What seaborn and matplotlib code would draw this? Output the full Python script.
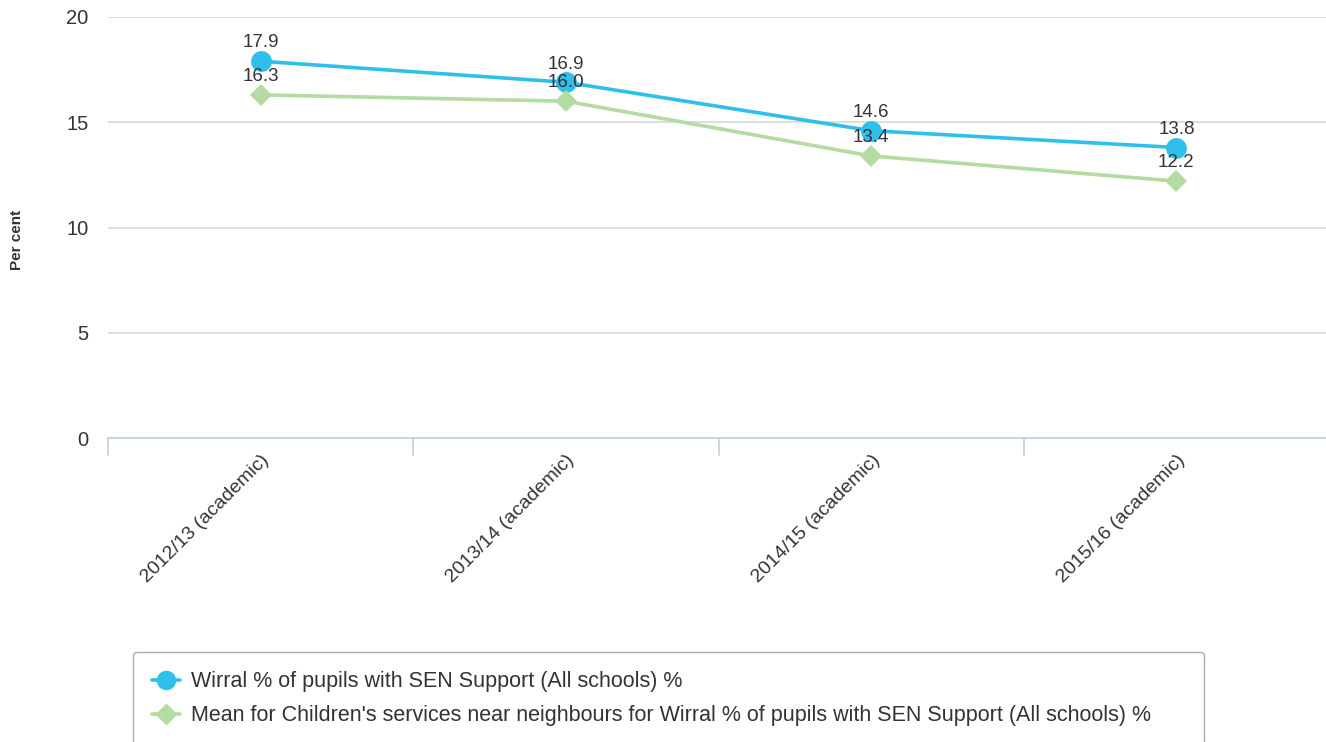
import numpy as np
import pandas as pd
import matplotlib
matplotlib.use("Agg")
import matplotlib.pyplot as plt
import seaborn as sns

# chart data
years = ["2012/13 (academic)", "2013/14 (academic)", "2014/15 (academic)", "2015/16 (academic)"]
wirral = [17.9, 16.9, 14.6, 13.8]
neighbours = [16.3, 16.0, 13.4, 12.2]
series_names = [
    "Wirral % of pupils with SEN Support (All schools) %",
    "Mean for Children's services near neighbours for Wirral % of pupils with SEN Support (All schools) %",
]
y_ticks = [0, 5, 10, 15, 20]

blue = "#2ec0ea"
green = "#b4dba0"

sns.set_theme(style="white")
plt.rcParams["font.family"] = ["Liberation Sans", "DejaVu Sans"]

df = pd.DataFrame({
    "pos": list(range(len(years))) * 2,
    "value": wirral + neighbours,
    "series": [series_names[0]] * len(years) + [series_names[1]] * len(years),
})

fig = plt.figure(figsize=(13.26, 7.42), dpi=100)
ax = fig.add_axes([108 / 1326, 1 - 438 / 742, (1326 - 108) / 1326, (438 - 17) / 742])

sns.lineplot(data=df, x="pos", y="value", hue="series", style="series",
             palette=[blue, green], markers=["o", "D"], dashes=False,
             markersize=14, linewidth=2.6, markeredgewidth=0, ax=ax, legend=False)
# diamond a bit smaller than circle
for line, ms in zip(ax.lines, [15, 11]):
    line.set_markersize(ms)

for vals in (wirral, neighbours):
    for i, v in enumerate(vals):
        ax.annotate(f"{v:.1f}", (i, v), xytext=(0, 7), textcoords="offset points",
                    ha="center", va="bottom", fontsize=13.5, color="#333333")

ax.set_xlim(-0.5, 3.49)
ax.set_ylim(0, 20)
ax.set_yticks(y_ticks)
ax.set_yticklabels([str(t) for t in y_ticks], fontsize=14.5, color="#333333")
ax.tick_params(axis="y", length=0, pad=14)
ax.grid(axis="y", color="#d8d8d8", linewidth=1.2)
ax.set_axisbelow(True)

ax.set_xticks(np.arange(len(years)))
ax.set_xticklabels(years, rotation=45, ha="right", rotation_mode="anchor",
                   fontsize=14, color="#333333")
ax.tick_params(axis="x", length=0, pad=10)
# band separators below the axis line
for edge in np.arange(-0.5, len(years) - 0.5):
    ax.plot([edge, edge], [0, -0.8], color="#c0d0e0", linewidth=1.2, clip_on=False)

for side in ["top", "right", "left"]:
    ax.spines[side].set_visible(False)
ax.spines["bottom"].set_color("#c0d0e0")
ax.spines["bottom"].set_linewidth(1.2)

ax.set_xlabel("")
ax.set_ylabel("Per cent", fontsize=11, fontweight="bold", color="#333333")
ax.yaxis.set_label_coords(-0.069, 0.47)

handles = [
    plt.Line2D([], [], color=blue, marker="o", markersize=13, linewidth=2.6),
    plt.Line2D([], [], color=green, marker="D", markersize=10, linewidth=2.6),
]
leg = fig.legend(handles, series_names, loc="upper left",
                 bbox_to_anchor=(133 / 1326, 1 - 652 / 742, (1204 - 133) / 1326, 0),
                 mode="expand", frameon=True, fancybox=True, fontsize=15.5,
                 handlelength=1.3, handletextpad=0.5, labelspacing=0.6,
                 borderpad=0.9, borderaxespad=0, labelcolor="#333333")
leg.get_frame().set_edgecolor("#999999")
leg.get_frame().set_linewidth(1.0)

fig.savefig("out.png", dpi=100)
